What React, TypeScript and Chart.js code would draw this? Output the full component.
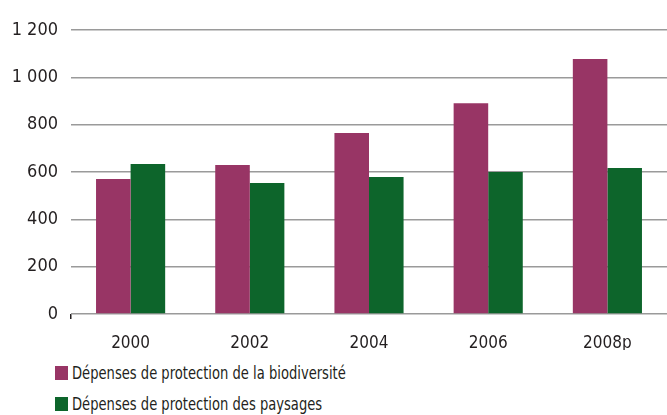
import React, { useEffect, useRef } from "react";
import { Chart, registerables } from "chart.js";

Chart.register(...registerables);

const categories = ["2000", "2002", "2004", "2006", "2008p"];
const biodiversite = [570, 630, 765, 891, 1077];
const paysages = [634, 553, 579, 600, 617];
const seriesNames = [
  "Dépenses de protection de la biodiversité",
  "Dépenses de protection des paysages",
];
const colors = ["#983565", "#0d652b"];

const FONT = "'DejaVu Sans Condensed', 'DejaVu Sans', sans-serif";
const TEXT = "#231f20";

export default function App() {
  const ref = useRef<HTMLCanvasElement | null>(null);
  useEffect(() => {
    const canvas = ref.current;
    if (!canvas) return;
    const chart = new Chart(canvas, {
      type: "bar",
      data: {
        labels: categories,
        datasets: [
          { label: seriesNames[0], data: biodiversite, backgroundColor: colors[0] },
          { label: seriesNames[1], data: paysages, backgroundColor: colors[1] },
        ],
      },
      options: {
        responsive: false,
        animation: false,
        layout: { padding: { top: 30, left: 0, right: 0, bottom: 0 } },
        plugins: { legend: { display: false }, tooltip: { enabled: false } },
        datasets: { bar: { categoryPercentage: 0.58, barPercentage: 1 } },
        scales: {
          x: {
            grid: {
              display: true,
              drawOnChartArea: false,
              drawTicks: true,
              tickLength: 5,
              lineWidth: 1.5,
              color: (c: any) => (c.index === 0 ? "#231f20" : "rgba(0,0,0,0)"),
            },
            border: { display: false },
            ticks: { color: TEXT, font: { family: FONT, size: 17 }, padding: 14 },
            afterFit: (s: any) => { s.height = 36; },
          },
          y: {
            min: 0,
            max: 1200,
            ticks: {
              stepSize: 200,
              color: TEXT,
              font: { family: FONT, size: 18 },
              padding: 13,
              callback: (v: any) => String(v).replace(/\B(?=(\d{3})+(?!\d))/g, " "),
            },
            grid: { color: "#9a9a9a", lineWidth: 1.5, drawTicks: false },
            border: { display: false },
            afterFit: (s: any) => { s.width = 71; },
          },
        },
      },
    });
    return () => chart.destroy();
  }, []);

  const legendRow = (i: number, top: number) => (
    <div
      style={{
        position: "absolute",
        left: 55,
        top,
        display: "flex",
        alignItems: "center",
        color: TEXT,
        whiteSpace: "nowrap",
      }}
    >
      <span style={{ display: "inline-block", width: 13, height: 14, background: colors[i], marginRight: 4 }} />
      <span
        style={{
          display: "inline-block",
          fontFamily: FONT,
          fontSize: 18,
          transform: "scaleX(0.81)",
          transformOrigin: "left center",
        }}
      >
        {seriesNames[i]}
      </span>
    </div>
  );

  return (
    <div style={{ position: "absolute", left: 0, top: 0, width: 667, height: 415, background: "#fff" }}>
      <canvas ref={ref} width={667} height={350} style={{ position: "absolute", left: 0, top: 0 }} />
      {legendRow(0, 362)}
      {legendRow(1, 393)}
    </div>
  );
}
